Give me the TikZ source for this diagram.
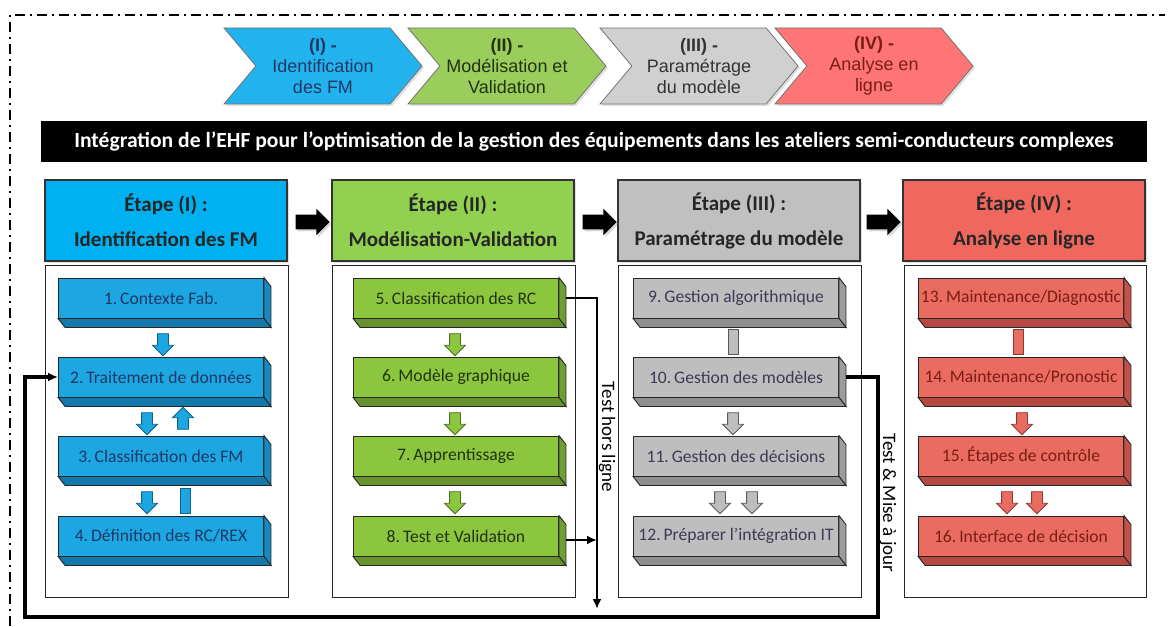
\documentclass[tikz,border=0pt]{standalone}
\usepackage{fontspec}
\setmainfont{Carlito}
\newfontfamily\chevfont{Liberation Sans}
\usetikzlibrary{shapes.symbols,shapes.arrows,arrows.meta,shadows}

\definecolor{chevBlue}{HTML}{22B3EF}
\definecolor{headBlue}{HTML}{00B0F0}
\definecolor{itemBlue}{HTML}{1CA6E2}
\definecolor{sideBlue}{HTML}{168AC0}
\definecolor{botBlue}{HTML}{1479AA}
\definecolor{txtBlue}{HTML}{1F3864}
\definecolor{chevGreen}{HTML}{9ACD5C}
\definecolor{headGreen}{HTML}{92D050}
\definecolor{itemGreen}{HTML}{8CC63F}
\definecolor{sideGreen}{HTML}{719E33}
\definecolor{botGreen}{HTML}{68922E}
\definecolor{txtGreen}{HTML}{22330F}
\definecolor{chevGrey}{HTML}{D0D0D0}
\definecolor{headGrey}{HTML}{C0C0C0}
\definecolor{itemGrey}{HTML}{BEBEBE}
\definecolor{sideGrey}{HTML}{9C9C9C}
\definecolor{botGrey}{HTML}{8F8F8F}
\definecolor{txtGrey}{HTML}{3D3A55}
\definecolor{chevRed}{HTML}{FF7474}
\definecolor{headRed}{HTML}{F0685D}
\definecolor{itemRed}{HTML}{EA6B5F}
\definecolor{sideRed}{HTML}{C4524A}
\definecolor{botRed}{HTML}{B54840}
\definecolor{txtRed}{HTML}{7A1E16}

\tikzset{
  chev/.style={signal, signal to=east, signal from=west, signal pointer angle=100,
    minimum width=99pt, minimum height=38pt, inner sep=0pt, draw=black!55,
    drop shadow={opacity=0.25,shadow xshift=1pt,shadow yshift=-1pt},
    align=center, font=\chevfont\fontsize{9}{10.5}\selectfont},
  head/.style={draw=black!80, line width=0.8pt, minimum width=121pt, minimum height=40.5pt,
    drop shadow={opacity=0.25,shadow xshift=1pt,shadow yshift=-1pt},
    align=center, text=black!85, font=\bfseries\fontsize{10.5}{17.5}\selectfont},
  item/.style={draw=black!85, line width=0.45pt, minimum width=102.5pt, minimum height=20pt,
    inner sep=0pt, font=\fontsize{8.8}{10}\selectfont},
  down/.style={single arrow, shape border rotate=270, minimum height=11pt, minimum width=10pt,
    single arrow head extend=2.5pt, inner sep=2.5pt, line width=0.4pt},
  up/.style={down, shape border rotate=90},
  bar/.style={rectangle, minimum width=5pt, minimum height=12.5pt, inner sep=0pt, line width=0.4pt},
  bigarrow/.style={single arrow, fill=black, minimum height=17pt, minimum width=13pt,
    single arrow head extend=3pt, inner sep=3.5pt,
    drop shadow={opacity=0.3,shadow xshift=1pt,shadow yshift=-1pt}},
  link/.style={line width=1.5pt, -{Latex[length=5pt,width=4.5pt]}},
  body/.style={draw=black!85, line width=0.5pt}
}

\begin{document}
\begin{tikzpicture}[x=0.5pt,y=-0.5pt]
\useasboundingbox (0,0) rectangle (1171,626);
\draw[line width=1.2pt, dash pattern=on 5pt off 2.5pt on 1pt off 2.5pt] (10,626) -- (10,15) -- (1165,15);

\node[chev, fill=chevRed, text=txtRed] (c4) at (874,66) {\textbf{(IV) -}\\Analyse en\\ligne};
\node[chev, fill=chevGrey, text=black!80] (c3) at (699,66) {\textbf{(III) -}\\Paramétrage\\du modèle};
\node[chev, fill=chevGreen, text=txtGreen] (c2) at (507,66) {\textbf{(II) -}\\Modélisation et\\Validation};
\node[chev, fill=chevBlue, text=txtBlue] (c1) at (323,66) {\textbf{(I) -}\\Identification\\des FM};

\node[fill=black, text=white, minimum width=553pt, minimum height=20.5pt, font=\bfseries\fontsize{10.8}{12}\selectfont] (title) at (594,141.5)
  {Intégration de l’EHF pour l’optimisation de la gestion des équipements dans les ateliers semi-conducteurs complexes};

\node[head, fill=headBlue] (h1) at (166,220.5) {Étape (I) :\\Identification des FM};
\node[head, fill=headGreen] (h2) at (453,220.5) {Étape (II) :\\Modélisation-Validation};
\node[head, fill=headGrey] (h3) at (739,220.5) {Étape (III) :\\Paramétrage du modèle};
\node[head, fill=headRed] (h4) at (1024,220.5) {Étape (IV) :\\Analyse en ligne};

\node[bigarrow] (g1) at (309,222) {};
\node[bigarrow] (g2) at (596,222) {};
\node[bigarrow] (g3) at (880,222) {};

\draw[body] (45,265) rectangle (288,597);
\draw[body] (332,265) rectangle (575,597);
\draw[body] (618,265) rectangle (861,597);
\draw[body] (904,265) rectangle (1146,597);

\node[item, fill=itemBlue, text=txtBlue] (b1) at (161,298) {1.\,Contexte Fab.};
\node[item, fill=itemBlue, text=txtBlue] (b2) at (161,377) {2.\,Traitement de données};
\node[item, fill=itemBlue, text=txtBlue] (b3) at (161,456) {3.\,Classification des FM};
\node[item, fill=itemBlue, text=txtBlue] (b4) at (161,536) {4.\,Définition des RC/REX};

\node[item, fill=itemGreen, text=txtGreen] (b5) at (456,298) {5.\,Classification des RC};
\node[item, fill=itemGreen, text=txtGreen] (b6) at (456,377) {6.\,Modèle graphique};
\node[item, fill=itemGreen, text=txtGreen] (b7) at (456,456) {7.\,Apprentissage};
\node[item, fill=itemGreen, text=txtGreen] (b8) at (456,536) {8.\,Test et Validation};

\node[item, fill=itemGrey, text=txtGrey] (b9) at (736,298) {9.\,Gestion algorithmique};
\node[item, fill=itemGrey, text=txtGrey] (b10) at (736,377) {10.\,Gestion des modèles};
\node[item, fill=itemGrey, text=txtGrey] (b11) at (736,456) {11.\,Gestion des décisions};
\node[item, fill=itemGrey, text=txtGrey] (b12) at (736,536) {12.\,Préparer l’intégration IT};

\node[item, fill=itemRed, text=txtRed] (b13) at (1021,298) {13.\,Maintenance/Diagnostic};
\node[item, fill=itemRed, text=txtRed] (b14) at (1021,377) {14.\,Maintenance/Pronostic};
\node[item, fill=itemRed, text=txtRed] (b15) at (1021,456) {15.\,Étapes de contrôle};
\node[item, fill=itemRed, text=txtRed] (b16) at (1021,536) {16.\,Interface de décision};

\foreach \n/\s/\b in {b1/sideBlue/botBlue,b2/sideBlue/botBlue,b3/sideBlue/botBlue,b4/sideBlue/botBlue,
    b5/sideGreen/botGreen,b6/sideGreen/botGreen,b7/sideGreen/botGreen,b8/sideGreen/botGreen,
    b9/sideGrey/botGrey,b10/sideGrey/botGrey,b11/sideGrey/botGrey,b12/sideGrey/botGrey,
    b13/sideRed/botRed,b14/sideRed/botRed,b15/sideRed/botRed,b16/sideRed/botRed}{
  \filldraw[fill=\s, draw=black!85, line width=0.45pt] (\n.north east) -- ++(3.5pt,-4.5pt)
    -- ([shift={(3.5pt,-4.5pt)}]\n.south east) -- (\n.south east) -- cycle;
  \filldraw[fill=\b, draw=black!85, line width=0.45pt] (\n.south west) -- (\n.south east)
    -- ++(3.5pt,-4.5pt) -- ([shift={(3.5pt,-4.5pt)}]\n.south west) -- cycle;
}

\node[down, fill=itemBlue, draw=sideBlue!70!black] (a1) at (163,342) {};
\node[down, fill=itemBlue, draw=sideBlue!70!black] (a2) at (147,421) {};
\node[up, fill=itemBlue, draw=sideBlue!70!black] (a3) at (183,421) {};
\node[down, fill=itemBlue, draw=sideBlue!70!black] (a4) at (147,500) {};
\node[bar, fill=itemBlue, draw=sideBlue!70!black] (a5) at (185,501) {};

\node[down, fill=itemGreen, draw=sideGreen!70!black] (a6) at (455,342) {};
\node[down, fill=itemGreen, draw=sideGreen!70!black] (a7) at (455,421) {};
\node[down, fill=itemGreen, draw=sideGreen!70!black] (a8) at (455,500) {};

\node[bar, fill=itemGrey, draw=black!65] (a9) at (733,342) {};
\node[down, fill=itemGrey, draw=black!65] (a10) at (733,421) {};
\node[down, fill=itemGrey, draw=black!65] (a11) at (720,500) {};
\node[down, fill=itemGrey, draw=black!65] (a12) at (752,500) {};

\node[bar, fill=itemRed, draw=sideRed!70!black] (a13) at (1018,342) {};
\node[down, fill=itemRed, draw=sideRed!70!black] (a14) at (1022,421) {};
\node[down, fill=itemRed, draw=sideRed!70!black] (a15) at (1007,500) {};
\node[down, fill=itemRed, draw=sideRed!70!black] (a16) at (1037,500) {};

\coordinate (t1) at (597,609);
\coordinate (f1) at (878,617);
\coordinate (f2) at (25,617);
\draw[link, line width=1.35pt] ([xshift=3.5pt]b5.east) -| (t1);
\draw[link, line width=1.35pt] ([xshift=3.5pt,yshift=-2pt]b8.east) -- ([yshift=-2pt]b8.east -| t1);
\draw[link, line width=1.7pt] ([xshift=3.5pt]b10.east) -| (f1) -- (f2) |- (b2.west);

\node[rotate=-90, font=\fontsize{9.5}{11}\selectfont] (l1) at (607,437) {Test hors ligne};
\node[rotate=-90, font=\fontsize{9.5}{11}\selectfont] (l2) at (888,503) {Test \& Mise à jour};

\end{tikzpicture}
\end{document}
